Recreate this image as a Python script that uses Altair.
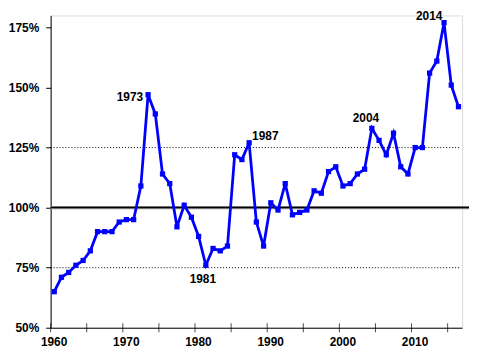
import altair as alt
import pandas as pd

years = list(range(1960, 2017))
values = [65, 71, 73, 76, 78, 82, 90, 90, 90, 94,
          95, 95, 109, 147, 139, 114, 110, 92, 101, 96,
          88, 76, 83, 82, 84, 122, 120, 127, 94, 84,
          102, 99, 110, 97, 98, 99, 107, 106, 115, 117,
          109, 110, 114, 116, 133, 128, 122, 131, 117, 114,
          125, 125, 156, 161, 177, 151, 142]

tick_years = list(range(1960, 2020, 5))
label_years = [1960, 1970, 1980, 1990, 2000, 2010]
y_ticks = [50, 75, 100, 125, 150, 175]
dotted_levels = [75, 125]

ann_years = [1973, 1981, 1987, 2004, 2014]
ann_text = ["1973", "1981", "1987", "2004", "2014"]

df = pd.DataFrame({"year": years, "value": values})
df_ticks = pd.DataFrame({"year": tick_years, "value": [50] * len(tick_years)})
df_dot = pd.DataFrame({"value": dotted_levels})
df_100 = pd.DataFrame({"value": [100]})
vmap = dict(zip(years, values))
df_ann = pd.DataFrame({"year": ann_years, "label": ann_text,
                       "value": [vmap[y] for y in ann_years]})

xscale = alt.Scale(domain=[1960, 2017], nice=False, zero=False)
yscale = alt.Scale(domain=[50, 180], nice=False, zero=False)

lab = dict(labelFont="Liberation Sans", labelFontWeight="bold", labelFontSize=12,
           labelColor="black", domainColor="black", domainWidth=1)

xaxis = alt.Axis(values=label_years, format="d", ticks=False, grid=False,
                 labelPadding=9, labelOffset=3, labelFlush=False, labelOverlap=False,
                 title=None, **lab)
yaxis = alt.Axis(values=y_ticks, labelExpr="datum.value + '%'", grid=False,
                 tickSize=5, tickColor="black", labelPadding=7, labelFlush=False,
                 title=None, **lab)

base = alt.Chart(df).transform_calculate(xpos="datum.year + 0.5")

dotted = alt.Chart(df_dot).mark_rule(color="black", strokeWidth=1, strokeDash=[1, 2]).encode(
    y=alt.Y("value:Q", scale=yscale, axis=yaxis),
    x=alt.value(0), x2=alt.value(413))

line100a = alt.Chart(df_100).mark_rule(color="#999999", strokeWidth=3.5).encode(
    y=alt.Y("value:Q", scale=yscale), x=alt.value(0), x2=alt.value(422))
line100b = alt.Chart(df_100).mark_rule(color="black", strokeWidth=1.5).encode(
    y=alt.Y("value:Q", scale=yscale), x=alt.value(0), x2=alt.value(422))

ticks = alt.Chart(df_ticks).mark_tick(orient="vertical", color="black", thickness=1, size=9).encode(
    x=alt.X("year:Q", scale=xscale, axis=xaxis),
    y=alt.Y("value:Q", scale=yscale))

line = base.mark_line(color="#0000FF", strokeWidth=2.8,
                      point=alt.OverlayMarkDef(shape="square", size=28, color="#0000FF", filled=True)).encode(
    x=alt.X("xpos:Q", scale=xscale),
    y=alt.Y("value:Q", scale=yscale))

ann = alt.Chart(df_ann).transform_calculate(xpos="datum.year + 0.5")
txt_font = dict(font="Liberation Sans", fontSize=12, color="black", fontWeight="bold")
t1973 = ann.transform_filter("datum.year == 1973").mark_text(
    align="right", baseline="middle", dx=-5, dy=2, **txt_font).encode(
    x=alt.X("xpos:Q", scale=xscale), y=alt.Y("value:Q", scale=yscale), text="label:N")
t1981 = ann.transform_filter("datum.year == 1981").mark_text(
    align="center", baseline="middle", dx=-3, dy=14, **txt_font).encode(
    x=alt.X("xpos:Q", scale=xscale), y=alt.Y("value:Q", scale=yscale), text="label:N")
t1987 = ann.transform_filter("datum.year == 1987").mark_text(
    align="left", baseline="middle", dx=3, dy=-7, **txt_font).encode(
    x=alt.X("xpos:Q", scale=xscale), y=alt.Y("value:Q", scale=yscale), text="label:N")
t2004 = ann.transform_filter("datum.year == 2004").mark_text(
    align="center", baseline="middle", dx=-6, dy=-10, **txt_font).encode(
    x=alt.X("xpos:Q", scale=xscale), y=alt.Y("value:Q", scale=yscale), text="label:N")
t2014 = ann.transform_filter("datum.year == 2014").mark_text(
    align="center", baseline="middle", dx=-15, dy=-7, **txt_font).encode(
    x=alt.X("xpos:Q", scale=xscale), y=alt.Y("value:Q", scale=yscale), text="label:N")

chart = alt.layer(dotted, line100a, line100b, ticks, line, t1973, t1981, t1987, t2004, t2014).properties(
    width=415, height=315,
    autosize=alt.AutoSizeParams(type="none"),
    padding={"left": 43, "top": 6, "right": 10, "bottom": 25},
).configure_view(stroke=None).configure(background="white")

chart.save("out.html", embed_options={"renderer": "svg", "actions": False})
